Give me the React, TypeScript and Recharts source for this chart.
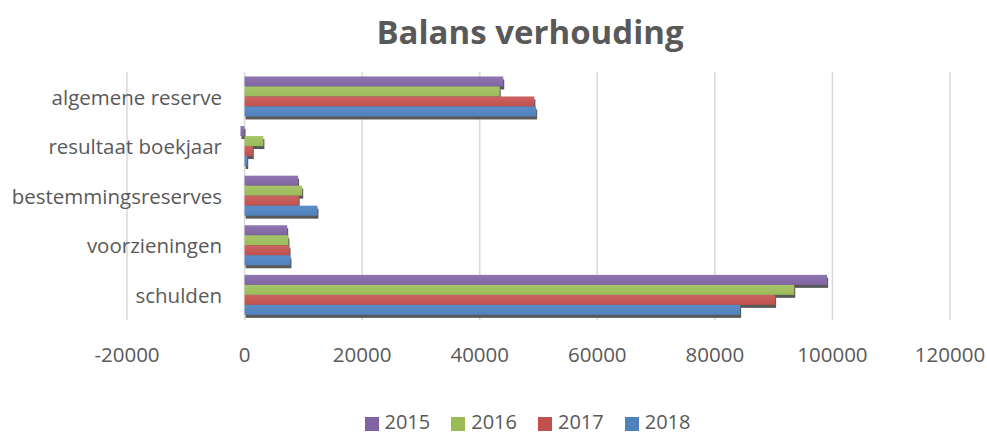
import React from 'react';
import { BarChart, Bar, XAxis, YAxis, CartesianGrid, Legend } from 'recharts';

const categories = ['algemene reserve', 'resultaat boekjaar', 'bestemmingsreserves', 'voorzieningen', 'schulden'];
const years = ['2015', '2016', '2017', '2018'];
const values2015 = [44000, -700, 9100, 7250, 99100];
const values2016 = [43400, 3200, 9800, 7450, 93500];
const values2017 = [49300, 1400, 9200, 7650, 90250];
const values2018 = [49600, 450, 12400, 7800, 84300];
const xTicks = [-20000, 0, 20000, 40000, 60000, 80000, 100000, 120000];

const seriesValues = [values2015, values2016, values2017, values2018];
const colors = ['#8064A2', '#9BBB59', '#C0504D', '#4F81BD'];
const lightColors = ['#8F76B0', '#A7C46A', '#CB6562', '#5D8DC8'];

const data = categories.map((name, i) => {
  const row: any = { name };
  years.forEach((y, k) => {
    row[y] = seriesValues[k][i];
  });
  return row;
});

const FONT = '"Open Sans", sans-serif';
const TEXT = '#595959';

const makeShape = (k: number) => (props: any) => {
  let { x, y, width, height } = props;
  if (width == null || height == null) return null;
  if (width < 0) {
    x = x + width;
    width = -width;
  }
  return (
    <g>
      <rect x={x + 1} y={y + 3} width={width} height={height} fill="#595959" />
      <rect x={x} y={y} width={width} height={height} fill={`url(#grad${k})`} />
    </g>
  );
};

const CategoryTick = (props: any) => {
  const { y, payload } = props;
  return (
    <text x={222} y={y} dy="0.38em" textAnchor="end" fill={TEXT} fontFamily={FONT} fontSize={20.5}>
      {payload.value}
    </text>
  );
};

const legendFormatter = (value: string) => (
  <span style={{ color: TEXT, paddingLeft: 2, paddingRight: 11 }}>{value}</span>
);

export default function App() {
  return (
    <div style={{ position: 'absolute', left: 0, top: 0, width: 987, height: 433, background: '#fff' }}>
      <div
        style={{
          position: 'absolute',
          left: 330,
          width: 400,
          top: 9,
          textAlign: 'center',
          fontFamily: FONT,
          fontWeight: 700,
          fontSize: 33,
          color: TEXT,
          whiteSpace: 'nowrap',
        }}
      >
        Balans verhouding
      </div>
      <BarChart
        width={987}
        height={433}
        data={data}
        layout="vertical"
        margin={{ top: 72, right: 37, left: 126, bottom: 0 }}
        barCategoryGap="9%"
        barGap={0}
      >
        <defs>
          {colors.map((c, k) => (
            <linearGradient key={k} id={`grad${k}`} x1="0" y1="0" x2="0" y2="1">
              <stop offset="0%" stopColor={lightColors[k]} />
              <stop offset="100%" stopColor={c} />
            </linearGradient>
          ))}
        </defs>
        <CartesianGrid horizontal={false} stroke="#D9D9D9" strokeWidth={1.5} />
        <XAxis
          type="number"
          domain={[-20000, 120000]}
          ticks={xTicks}
          axisLine={false}
          tickLine={false}
          tickSize={0}
          tickMargin={27}
          height={85}
          interval={0}
          tick={{ fill: TEXT, fontFamily: FONT, fontSize: 20.5 }}
        />
        <YAxis
          type="category"
          dataKey="name"
          width={1}
          axisLine={false}
          tickLine={false}
          interval={0}
          tick={<CategoryTick />}
        />
        <Legend
          verticalAlign="bottom"
          height={28}
          iconType="square"
          iconSize={14}
          formatter={legendFormatter}
          wrapperStyle={{
            fontFamily: FONT,
            fontSize: 20,
            lineHeight: '22px',
            paddingTop: 6,
            boxSizing: 'border-box',
            whiteSpace: 'nowrap',
          }}
        />
        {years.map((y, k) => (
          <Bar key={y} dataKey={y} fill={colors[k]} isAnimationActive={false} shape={makeShape(k)} />
        ))}
      </BarChart>
    </div>
  );
}
